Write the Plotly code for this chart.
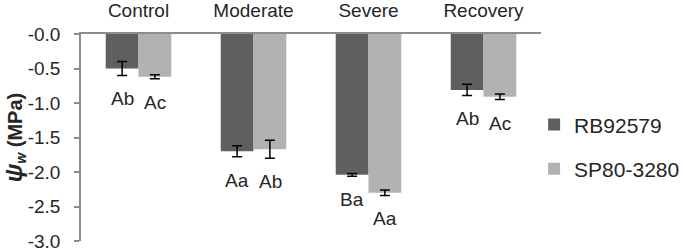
import plotly.graph_objects as go

categories = ["Control", "Moderate", "Severe", "Recovery"]
series_names = ["RB92579", "SP80-3280"]
rb_values = [-0.50, -1.70, -2.04, -0.81]
rb_errors = [0.10, 0.08, 0.02, 0.08]
sp_values = [-0.62, -1.67, -2.30, -0.91]
sp_errors = [0.03, 0.13, 0.04, 0.04]
rb_letters = ["Ab", "Aa", "Ba", "Ab"]
sp_letters = ["Ac", "Ab", "Aa", "Ac"]
y_tickvals = [0.0, -0.5, -1.0, -1.5, -2.0, -2.5, -3.0]
y_ticktext = ["-0.0", "-0.5", "-1.0", "-1.5", "-2.0", "-2.5", "-3.0"]

FONT = "Liberation Sans, Arial, sans-serif"
TXT = "#262626"
colors = ["#5f5f5f", "#b2b2b2"]

fig = go.Figure()
for name, vals, errs, col, grp in [
    (series_names[0], rb_values, rb_errors, colors[0], "a"),
    (series_names[1], sp_values, sp_errors, colors[1], "b"),
]:
    fig.add_trace(go.Bar(
        x=categories, y=vals, name=name, marker=dict(color=col, line=dict(width=0)),
        error_y=dict(type="data", array=errs, color="#000000", thickness=1.5, width=5),
        legendgroup=grp,
    ))

for vals, errs, letters, shift in [
    (rb_values, rb_errors, rb_letters, -16.5),
    (sp_values, sp_errors, sp_letters, 16.5),
]:
    for c, v, e, t in zip(categories, vals, errs, letters):
        fig.add_annotation(x=c, y=v - e, text=t, showarrow=False, xshift=shift,
                           yanchor="top", yshift=-11,
                           font=dict(family=FONT, size=19, color=TXT))

fig.update_layout(
    width=685, height=250,
    margin=dict(l=81, r=144, t=34, b=9, autoexpand=False),
    paper_bgcolor="white", plot_bgcolor="white",
    barmode="group", bargap=0.43, bargroupgap=0.0,
    showlegend=True,
    legend=dict(x=0.985, y=0.66, xanchor="left", yanchor="top",
                font=dict(family=FONT, size=21, color=TXT),
                tracegroupgap=14, bgcolor="rgba(0,0,0,0)"),
    font=dict(family=FONT, color=TXT),
)
fig.update_xaxes(side="top", showline=True, linecolor="#8c8c8c", linewidth=1.5,
                 ticks="", showgrid=False, zeroline=False, automargin=False,
                 tickfont=dict(family=FONT, size=19, color=TXT),
                 ticklabelstandoff=8, ticklabeloverflow="allow")
fig.update_yaxes(range=[-3.0, 0.0], tickvals=y_tickvals, ticktext=y_ticktext,
                 showline=True, linecolor="#8c8c8c", linewidth=1.5,
                 ticks="outside", ticklen=5, tickcolor="#8c8c8c", tickwidth=1.5,
                 showgrid=False, zeroline=False, automargin=False,
                 tickfont=dict(family=FONT, size=19, color=TXT),
                 ticklabelstandoff=10, ticklabeloverflow="allow",
                 title=dict(text="<b><span style='font-size:24px'><i>ψ</i></span>"
                                 "<sub><i>w</i></sub> (MPa)</b>",
                            font=dict(family=FONT, size=20, color=TXT), standoff=6))

fig.write_html("out.html", config={"displayModeBar": False},
               post_script="document.body.style.margin='0';document.body.style.padding='0';")
